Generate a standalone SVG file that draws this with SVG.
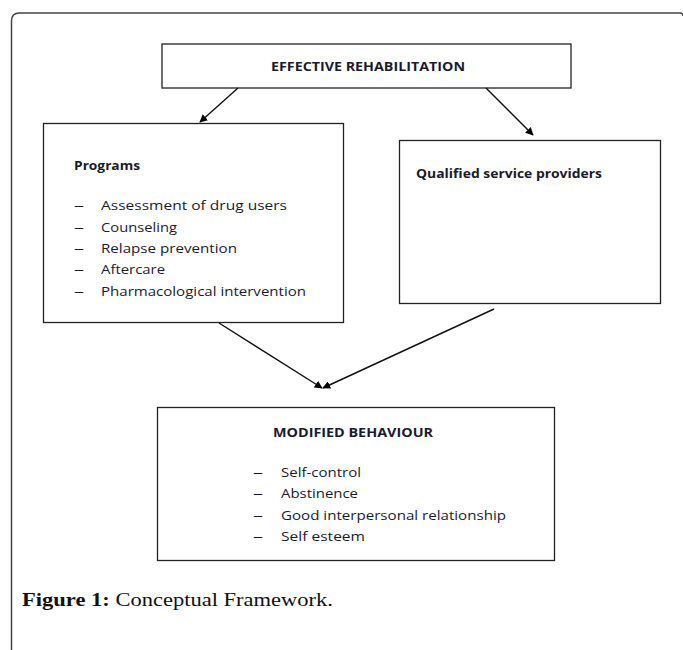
<svg xmlns="http://www.w3.org/2000/svg" width="683" height="650" viewBox="0 0 683 650">
<defs>
<style>
.box{fill:#fff;stroke:#222;stroke-width:1.3}
.t{font-family:"Open Sans","Liberation Sans",sans-serif;font-size:13px;fill:#1a1a2e}
.b{font-weight:bold}
.conn line{stroke:#111;stroke-width:1.4;marker-end:url(#ah)}
</style>
<marker id="ah" viewBox="0 0 10 10" refX="9" refY="5" markerWidth="8" markerHeight="8" orient="auto" markerUnits="userSpaceOnUse"><path d="M0,0 L10,5 L0,10 z" fill="#000"/></marker>
</defs>
<rect width="683" height="650" fill="#fff"/>
<path d="M11.5,660 V21 Q11.5,13 19.5,13 H680 Q683,13 683,16" fill="none" stroke="#444" stroke-width="1.5"/>
<g id="effective">
<rect class="box" x="162" y="44" width="409" height="44"/>
<text class="t b" x="271" y="71" textLength="194" lengthAdjust="spacingAndGlyphs">EFFECTIVE REHABILITATION</text>
</g>
<g id="programs">
<rect class="box" x="43.5" y="123.5" width="300" height="199"/>
<text class="t b" x="74" y="170" textLength="66" lengthAdjust="spacingAndGlyphs">Programs</text>
<text class="t" x="74" y="210" textLength="10" lengthAdjust="spacingAndGlyphs">–</text><text class="t" x="101" y="210" textLength="186" lengthAdjust="spacingAndGlyphs">Assessment of drug users</text>
<text class="t" x="74" y="232" textLength="10" lengthAdjust="spacingAndGlyphs">–</text><text class="t" x="101" y="232" textLength="76" lengthAdjust="spacingAndGlyphs">Counseling</text>
<text class="t" x="74" y="253" textLength="10" lengthAdjust="spacingAndGlyphs">–</text><text class="t" x="101" y="253" textLength="136" lengthAdjust="spacingAndGlyphs">Relapse prevention</text>
<text class="t" x="74" y="274" textLength="10" lengthAdjust="spacingAndGlyphs">–</text><text class="t" x="101" y="274" textLength="64" lengthAdjust="spacingAndGlyphs">Aftercare</text>
<text class="t" x="74" y="296" textLength="10" lengthAdjust="spacingAndGlyphs">–</text><text class="t" x="101" y="296" textLength="205" lengthAdjust="spacingAndGlyphs">Pharmacological intervention</text>
</g>
<g id="qualified">
<rect class="box" x="399.5" y="140.5" width="261" height="163"/>
<text class="t b" x="416" y="178" textLength="186" lengthAdjust="spacingAndGlyphs">Qualified service providers</text>
</g>
<g id="modified">
<rect class="box" x="157.5" y="407.5" width="397" height="153"/>
<text class="t b" x="273" y="437" textLength="160" lengthAdjust="spacingAndGlyphs">MODIFIED BEHAVIOUR</text>
<text class="t" x="253" y="477" textLength="10" lengthAdjust="spacingAndGlyphs">–</text><text class="t" x="281" y="477" textLength="80" lengthAdjust="spacingAndGlyphs">Self-control</text>
<text class="t" x="253" y="498" textLength="10" lengthAdjust="spacingAndGlyphs">–</text><text class="t" x="281" y="498" textLength="77" lengthAdjust="spacingAndGlyphs">Abstinence</text>
<text class="t" x="253" y="520" textLength="10" lengthAdjust="spacingAndGlyphs">–</text><text class="t" x="281" y="520" textLength="225" lengthAdjust="spacingAndGlyphs">Good interpersonal relationship</text>
<text class="t" x="253" y="541" textLength="10" lengthAdjust="spacingAndGlyphs">–</text><text class="t" x="281" y="541" textLength="84" lengthAdjust="spacingAndGlyphs">Self esteem</text>
</g>
<g id="connectors" class="conn">
<line x1="238" y1="88" x2="200" y2="122"/>
<line x1="486" y1="88" x2="533" y2="135"/>
<line x1="219" y1="323" x2="322" y2="388"/>
<line x1="494" y1="309" x2="323" y2="388"/>
</g>
<g id="caption">
<text x="22" y="606" font-family="Liberation Serif,serif" font-size="19" fill="#111" textLength="311" lengthAdjust="spacingAndGlyphs"><tspan font-weight="bold">Figure 1:</tspan> Conceptual Framework.</text>
</g>
</svg>
